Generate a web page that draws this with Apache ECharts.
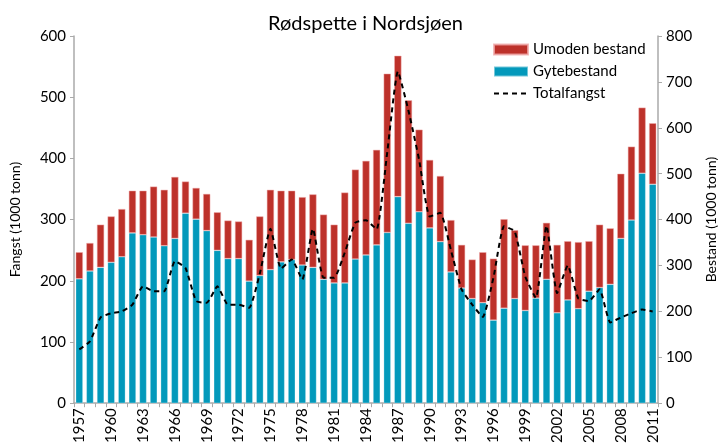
<!DOCTYPE html>
<html>
<head>
<meta charset="utf-8">
<script src="https://cdn.jsdelivr.net/npm/echarts@6/dist/echarts.min.js"></script>
<style>html,body{margin:0;padding:0;background:#fff;}#c{width:726px;height:446px;}</style>
</head>
<body>
<div id="c"></div>
<script>
var years = [];
for (var y = 1957; y <= 2011; y++) years.push(String(y));

var gytebestand = [271,288,296,307,319,371,367,362,343,359,414,401,376,333,315,315,266,278,291,308,313,301,296,270,262,262,314,323,345,372,450,392,417,382,352,286,251,228,219,181,207,228,202,229,270,197,225,206,244,252,259,359,399,501,477];
var totalBestand = [329,349,389,407,423,463,463,472,465,493,483,469,456,416,398,396,356,407,465,463,463,449,455,411,389,459,509,528,552,718,757,660,596,530,495,399,345,313,329,315,401,377,344,344,393,345,353,351,353,389,381,500,559,644,610];
var umoden = totalBestand.map(function(t, i){ return t - gytebestand[i]; });
var totalfangst = [88,101,140,147,150,161,191,183,183,232,221,167,164,191,161,161,156,212,285,220,235,202,285,205,205,246,295,299,284,410,542,478,398,305,311,250,186,161,141,205,289,281,207,172,290,180,225,171,167,186,132,140,147,153,150];

var FONT = 'Lato, "Open Sans", sans-serif';
var chart = echarts.init(document.getElementById('c'), null, {renderer: 'canvas'});
chart.setOption({
  animation: false,
  backgroundColor: '#fff',
  textStyle: {fontFamily: FONT, color: '#000'},
  title: {
    text: 'Rødspette i Nordsjøen',
    left: 263, top: 9,
    textStyle: {fontFamily: FONT, fontSize: 20, fontWeight: 'normal', color: '#000'}
  },
  legend: {
    orient: 'vertical',
    left: 488, top: 37,
    itemWidth: 34, itemHeight: 10, itemGap: 7,
    textStyle: {fontFamily: FONT, fontSize: 15, color: '#000'},
    data: [
      {name: 'Umoden bestand', icon: 'rect'},
      {name: 'Gytebestand', icon: 'rect'},
      {name: 'Totalfangst', itemStyle: {opacity: 0}}
    ]
  },
  grid: {left: 70, right: 61, top: 36, bottom: 42, containLabel: false},
  xAxis: {
    type: 'category',
    data: years,
    axisLine: {lineStyle: {color: '#aaa', width: 1.5}},
    axisTick: {show: true, interval: 0, length: 4, lineStyle: {color: '#aaa'}},
    axisLabel: {interval: 2, rotate: 90, fontSize: 15, color: '#000', fontFamily: FONT, margin: 5}
  },
  yAxis: [
    {
      type: 'value', min: 0, max: 600, interval: 100,
      name: 'Fangst (1000 tonn)', nameLocation: 'middle', nameGap: 52,
      nameTextStyle: {fontSize: 14, color: '#000', fontFamily: FONT},
      axisLine: {show: true, lineStyle: {color: '#aaa', width: 1.5}},
      axisTick: {show: true, length: 4, lineStyle: {color: '#aaa'}},
      splitLine: {show: false},
      axisLabel: {fontSize: 15, color: '#000', fontFamily: FONT, margin: 8}
    },
    {
      type: 'value', min: 0, max: 800, interval: 100,
      name: 'Bestand (1000 tonn)', nameLocation: 'middle', nameGap: 46, nameRotate: 90,
      nameTextStyle: {fontSize: 14, color: '#000', fontFamily: FONT},
      axisLine: {show: true, lineStyle: {color: '#aaa', width: 1.5}},
      axisTick: {show: true, length: 4, lineStyle: {color: '#aaa'}},
      splitLine: {show: false},
      axisLabel: {fontSize: 15, color: '#000', fontFamily: FONT, margin: 8}
    }
  ],
  series: [
    {
      name: 'Gytebestand', type: 'bar', stack: 'b', yAxisIndex: 1,
      data: gytebestand, barCategoryGap: '32%',
      itemStyle: {color: '#0399bb', borderColor: 'rgba(255,255,255,0.45)', borderWidth: 0.6}
    },
    {
      name: 'Umoden bestand', type: 'bar', stack: 'b', yAxisIndex: 1,
      data: umoden, barCategoryGap: '32%',
      itemStyle: {color: '#bd312a', borderColor: 'rgba(240,170,170,0.8)', borderWidth: 0.6}
    },
    {
      name: 'Totalfangst', type: 'line', yAxisIndex: 0,
      data: totalfangst, symbol: 'none', smooth: 0.15, z: 5,
      itemStyle: {color: '#000'},
      lineStyle: {color: '#000', width: 2, type: [5, 4]}
    }
  ]
});
</script>
</body>
</html>
